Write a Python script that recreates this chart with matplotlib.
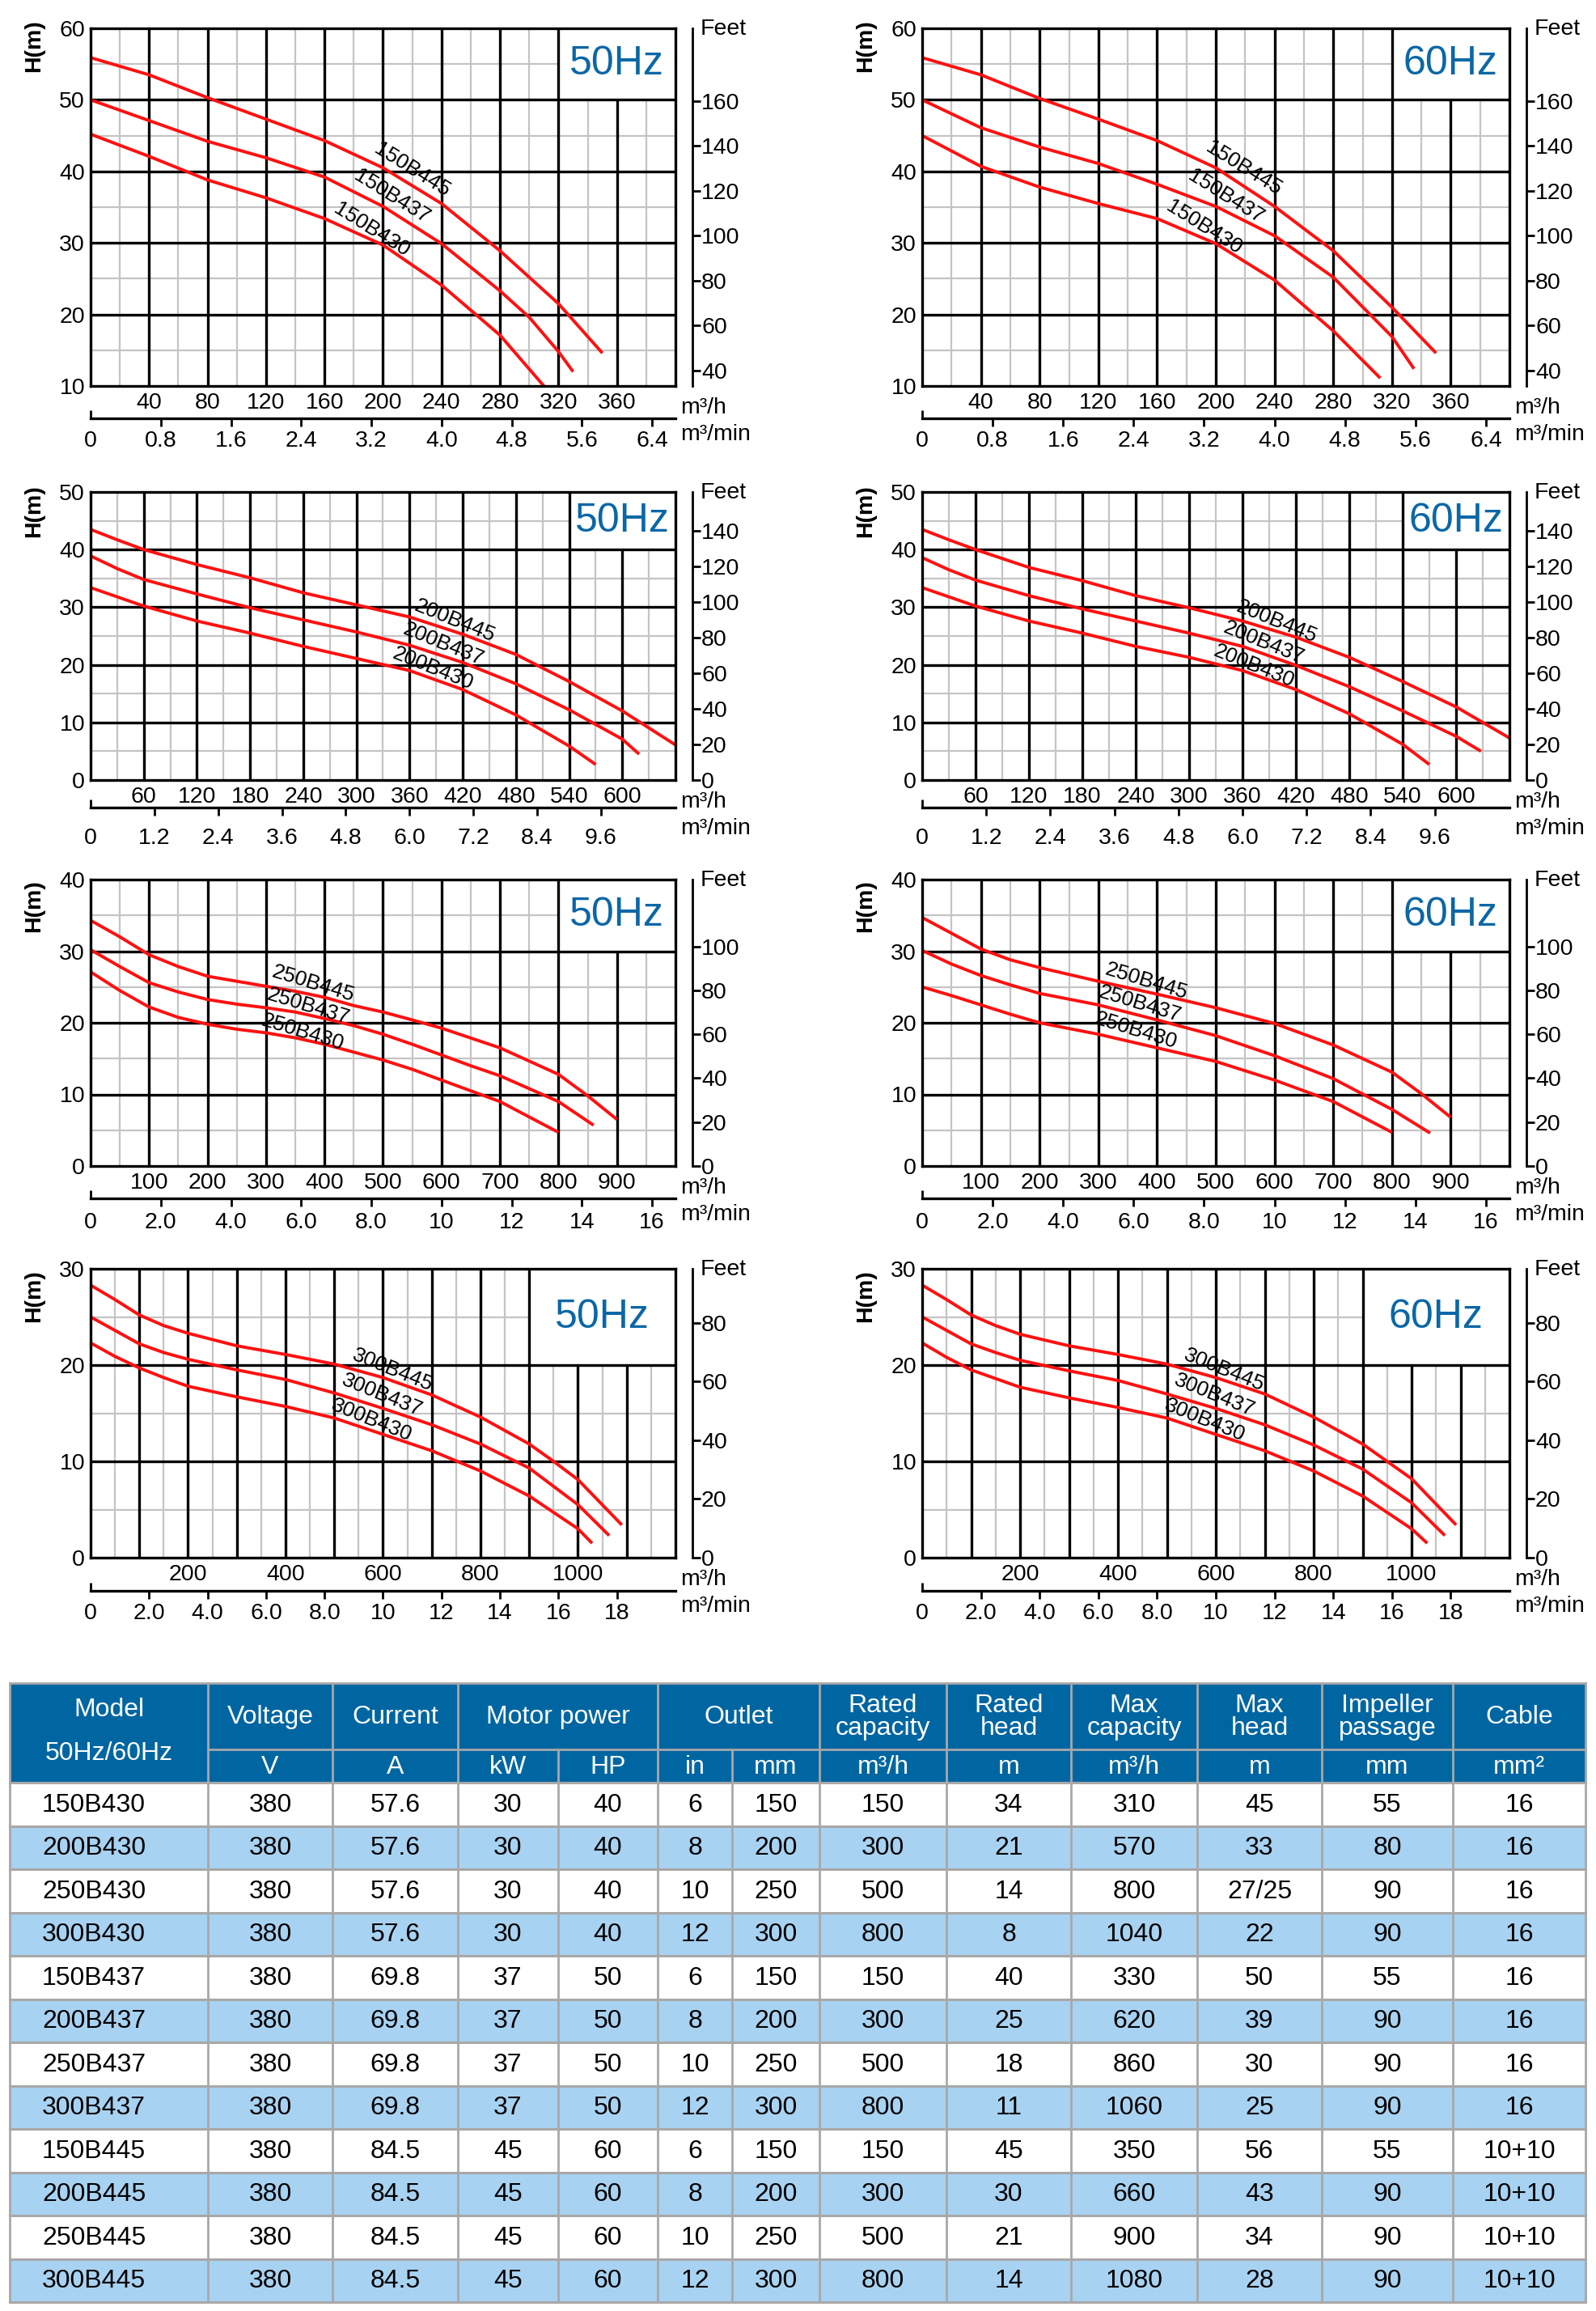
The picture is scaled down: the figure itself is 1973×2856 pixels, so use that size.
import numpy as np
import matplotlib
matplotlib.use("Agg")
import matplotlib.pyplot as plt
from matplotlib.patches import Rectangle

plt.rcParams['font.family'] = ['Liberation Sans', 'DejaVu Sans']

# ---------------- data ----------------
# 150B series (Q in m3/h, H in m)
q_150B445_50 = [0, 40, 80, 120, 160, 200, 240, 280, 320, 350]
h_150B445_50 = [55.9, 53.5, 50.3, 47.3, 44.3, 40.5, 35.5, 28.9, 21.5, 14.6]
q_150B437_50 = [0, 40, 80, 120, 160, 200, 240, 280, 300, 320, 330]
h_150B437_50 = [50.0, 47.1, 44.2, 41.9, 39.2, 35.1, 29.9, 23.3, 19.6, 14.8, 12.0]
q_150B430_50 = [0, 40, 80, 120, 160, 200, 240, 280, 310]
h_150B430_50 = [45.2, 42.1, 38.8, 36.3, 33.4, 29.7, 24.1, 17.1, 10.0]

q_150B445_60 = [0, 40, 80, 120, 160, 200, 240, 280, 320, 350]
h_150B445_60 = [55.9, 53.5, 50.2, 47.3, 44.3, 40.5, 35.1, 28.9, 21.0, 14.6]
q_150B437_60 = [0, 40, 80, 120, 160, 200, 240, 280, 320, 335]
h_150B437_60 = [50.0, 46.1, 43.4, 41.1, 38.2, 35.1, 31.0, 25.2, 16.9, 12.4]
q_150B430_60 = [0, 40, 80, 120, 160, 200, 240, 280, 312]
h_150B430_60 = [45.0, 40.7, 37.8, 35.5, 33.4, 29.9, 24.8, 17.7, 11.1]

# 200B series
q_200B445_50 = [0, 30, 60, 120, 180, 240, 300, 360, 420, 480, 540, 600, 660]
h_200B445_50 = [43.5, 41.7, 40.0, 37.4, 35.1, 32.5, 30.4, 28.3, 25.3, 21.8, 17.1, 12.0, 6.1]
q_200B437_50 = [0, 30, 60, 120, 180, 240, 300, 360, 420, 480, 540, 600, 619]
h_200B437_50 = [38.9, 36.7, 34.8, 32.3, 29.9, 27.8, 25.7, 23.4, 20.4, 16.7, 12.2, 7.1, 4.5]
q_200B430_50 = [0, 30, 60, 120, 180, 240, 300, 360, 420, 480, 540, 570]
h_200B430_50 = [33.4, 31.8, 30.2, 27.6, 25.5, 23.2, 21.1, 19.0, 15.7, 11.3, 5.9, 2.7]

q_200B445_60 = [0, 30, 60, 120, 180, 240, 300, 360, 420, 480, 540, 600, 660]
h_200B445_60 = [43.5, 41.7, 40.0, 36.9, 34.6, 32.0, 29.9, 27.6, 24.8, 21.3, 17.1, 12.7, 7.3]
q_200B437_60 = [0, 30, 60, 120, 180, 240, 300, 360, 420, 480, 540, 600, 628]
h_200B437_60 = [38.6, 36.5, 34.7, 32.0, 29.7, 27.6, 25.5, 23.2, 19.9, 16.2, 12.0, 7.6, 5.0]
q_200B430_60 = [0, 30, 60, 120, 180, 240, 300, 360, 420, 480, 540, 570]
h_200B430_60 = [33.4, 31.8, 30.2, 27.6, 25.5, 23.2, 21.3, 19.0, 15.7, 11.5, 6.2, 2.7]

# 250B series
q_250B445_50 = [0, 50, 100, 150, 200, 250, 300, 350, 400, 450, 500, 550, 600, 700, 800, 850, 900]
h_250B445_50 = [34.3, 32.0, 29.5, 27.85, 26.5, 25.8, 25.1, 24.4, 23.55, 22.4, 21.5, 20.4,
                19.25, 16.5, 12.8, 9.8, 6.5]
q_250B437_50 = [0, 50, 100, 150, 200, 250, 300, 350, 400, 450, 500, 550, 600, 650, 700, 800, 860]
h_250B437_50 = [30.2, 27.85, 25.6, 24.3, 23.25, 22.6, 22.1, 21.5, 20.6, 19.6, 18.4, 17.0,
                15.5, 14.0, 12.6, 9.0, 5.7]
q_250B430_50 = [0, 50, 100, 150, 200, 250, 300, 350, 400, 450, 500, 550, 600, 650, 700, 800]
h_250B430_50 = [27.1, 24.5, 22.2, 20.75, 19.8, 19.1, 18.6, 17.9, 17.0, 15.9, 14.8, 13.5,
                12.0, 10.5, 9.0, 4.7]

q_250B445_60 = [0, 50, 100, 150, 200, 300, 400, 500, 600, 700, 800, 850, 900]
h_250B445_60 = [34.7, 32.5, 30.3, 28.8, 27.7, 25.8, 24.0, 22.1, 19.9, 16.9, 13.1, 10.1, 6.8]
q_250B437_60 = [0, 50, 100, 150, 200, 300, 400, 500, 600, 700, 800, 865]
h_250B437_60 = [30.1, 28.2, 26.6, 25.3, 24.1, 22.5, 20.4, 18.2, 15.4, 12.2, 7.9, 4.6]
q_250B430_60 = [0, 50, 100, 150, 200, 300, 400, 500, 600, 700, 800]
h_250B430_60 = [25.0, 23.8, 22.5, 21.2, 20.0, 18.4, 16.5, 14.6, 12.0, 9.0, 4.7]

# 300B series
q_300B445_50 = [0, 50, 100, 150, 200, 300, 400, 500, 600, 700, 800, 900, 950, 1000, 1090]
h_300B445_50 = [28.3, 26.8, 25.2, 24.1, 23.3, 22.0, 21.1, 20.1, 18.7, 16.9, 14.6, 11.8, 10.0, 8.1, 3.4]
q_300B437_50 = [0, 50, 100, 150, 200, 300, 400, 500, 600, 700, 800, 900, 1000, 1064]
h_300B437_50 = [25.0, 23.6, 22.2, 21.3, 20.6, 19.5, 18.5, 17.1, 15.5, 13.8, 11.8, 9.3, 5.5, 2.3]
q_300B430_50 = [0, 50, 100, 150, 200, 300, 400, 500, 600, 700, 800, 900, 1000, 1029]
h_300B430_50 = [22.3, 20.9, 19.7, 18.7, 17.8, 16.7, 15.7, 14.5, 12.8, 11.1, 9.0, 6.4, 3.0, 1.5]

q_300B445_60 = [0, 50, 100, 150, 200, 300, 400, 500, 600, 700, 800, 900, 1000, 1091]
h_300B445_60 = [28.3, 26.8, 25.2, 24.1, 23.2, 22.0, 21.1, 20.1, 18.7, 17.0, 14.6, 11.8, 8.2, 3.4]
q_300B437_60 = [0, 50, 100, 150, 200, 300, 400, 500, 600, 700, 800, 900, 1000, 1068]
h_300B437_60 = [25.0, 23.6, 22.2, 21.3, 20.5, 19.4, 18.4, 17.0, 15.5, 13.8, 11.7, 9.2, 5.7, 2.3]
q_300B430_60 = [0, 50, 100, 150, 200, 300, 400, 500, 600, 700, 800, 900, 1000, 1032]
h_300B430_60 = [22.3, 20.8, 19.5, 18.6, 17.7, 16.6, 15.6, 14.5, 12.8, 11.1, 9.0, 6.4, 3.0, 1.5]

# axis tick labels
qh_ticks = [[40, 80, 120, 160, 200, 240, 280, 320, 360],
            [60, 120, 180, 240, 300, 360, 420, 480, 540, 600],
            [100, 200, 300, 400, 500, 600, 700, 800, 900],
            [200, 400, 600, 800, 1000]]
qmin_ticks = [[0.8, 1.6, 2.4, 3.2, 4.0, 4.8, 5.6, 6.4],
              [1.2, 2.4, 3.6, 4.8, 6.0, 7.2, 8.4, 9.6],
              [2, 4, 6, 8, 10, 12, 14, 16],
              [2, 4, 6, 8, 10, 12, 14, 16, 18]]
qmin_labels = [['0.8', '1.6', '2.4', '3.2', '4.0', '4.8', '5.6', '6.4'],
               ['1.2', '2.4', '3.6', '4.8', '6.0', '7.2', '8.4', '9.6'],
               ['2.0', '4.0', '6.0', '8.0', '10', '12', '14', '16'],
               ['2.0', '4.0', '6.0', '8.0', '10', '12', '14', '16', '18']]
h_ticks = [[10, 20, 30, 40, 50, 60], [0, 10, 20, 30, 40, 50],
           [0, 10, 20, 30, 40], [0, 10, 20, 30]]
ft_ticks = [[40, 60, 80, 100, 120, 140, 160], [0, 20, 40, 60, 80, 100, 120, 140],
            [0, 20, 40, 60, 80, 100], [0, 20, 40, 60, 80]]
ft_limits = [(33.2, 192.2), (0, 162), (0, 130.5), (0, 98.4)]
q_max = [400, 660, 1000, 1200]
h_limits = [(10, 60), (0, 50), (0, 40), (0, 30)]
q_major = [40, 60, 100, 100]
box_corner = [(320, 50), (540, 40), (800, 30), (900, 20)]
series_names = ['150B', '200B', '250B', '300B']
model_suffix = ['445', '437', '430']
label_angle = [32, 22, 17, 22]
label_pos_50 = [[(220, 40.2), (206, 36.5), (192, 31.8)],
                [(411, 27.6), (398, 23.6), (386, 19.4)],
                [(380, 25.4), (372, 22.3), (363, 18.7)],
                [(619, 19.5), (598, 16.9), (576, 14.3)]]
label_pos_60 = [[(219, 40.4), (207, 36.5), (192, 32.2)],
                [(398, 27.5), (384, 23.8), (373, 19.8)],
                [(382, 25.8), (370, 22.6), (364, 18.9)],
                [(618, 19.5), (598, 16.9), (577, 14.3)]]

# table data
tbl_model = ['150B430', '200B430', '250B430', '300B430', '150B437', '200B437',
             '250B437', '300B437', '150B445', '200B445', '250B445', '300B445']
tbl_voltage = ['380'] * 12
tbl_current = ['57.6'] * 4 + ['69.8'] * 4 + ['84.5'] * 4
tbl_kw = ['30'] * 4 + ['37'] * 4 + ['45'] * 4
tbl_hp = ['40'] * 4 + ['50'] * 4 + ['60'] * 4
tbl_in = ['6', '8', '10', '12'] * 3
tbl_mm = ['150', '200', '250', '300'] * 3
tbl_rated_cap = ['150', '300', '500', '800'] * 3
tbl_rated_head = ['34', '21', '14', '8', '40', '25', '18', '11', '45', '30', '21', '14']
tbl_max_cap = ['310', '570', '800', '1040', '330', '620', '860', '1060', '350', '660', '900', '1080']
tbl_max_head = ['45', '33', '27/25', '22', '50', '39', '30', '25', '56', '43', '34', '28']
tbl_impeller = ['55', '80', '90', '90', '55', '90', '90', '90', '55', '90', '90', '90']
tbl_cable = ['16'] * 8 + ['10+10'] * 4
hdr_top = ['Voltage', 'Current', 'Motor power', 'Outlet', 'Rated\ncapacity', 'Rated\nhead',
           'Max\ncapacity', 'Max\nhead', 'Impeller\npassage', 'Cable']
hdr_units = ['V', 'A', 'kW', 'HP', 'in', 'mm', 'm³/h', 'm', 'm³/h', 'm', 'mm', 'mm²']

curves50 = [[(q_150B445_50, h_150B445_50), (q_150B437_50, h_150B437_50), (q_150B430_50, h_150B430_50)],
            [(q_200B445_50, h_200B445_50), (q_200B437_50, h_200B437_50), (q_200B430_50, h_200B430_50)],
            [(q_250B445_50, h_250B445_50), (q_250B437_50, h_250B437_50), (q_250B430_50, h_250B430_50)],
            [(q_300B445_50, h_300B445_50), (q_300B437_50, h_300B437_50), (q_300B430_50, h_300B430_50)]]
curves60 = [[(q_150B445_60, h_150B445_60), (q_150B437_60, h_150B437_60), (q_150B430_60, h_150B430_60)],
            [(q_200B445_60, h_200B445_60), (q_200B437_60, h_200B437_60), (q_200B430_60, h_200B430_60)],
            [(q_250B445_60, h_250B445_60), (q_250B437_60, h_250B437_60), (q_250B430_60, h_250B430_60)],
            [(q_300B445_60, h_300B445_60), (q_300B437_60, h_300B437_60), (q_300B430_60, h_300B430_60)]]

# ---------------- layout ----------------
W, H = 1974, 2856
fig = plt.figure(figsize=(W / 100, H / 100), dpi=100)
fig.patch.set_facecolor('white')

def rect(x0, y0, x1, y1):
    return [x0 / W, 1 - y1 / H, (x1 - x0) / W, (y1 - y0) / H]

col_left = [112, 1140]
col_right = [835, 1866]
row_top = [35, 608, 1087, 1568]
row_bot = [477, 964, 1441, 1925]
min_line_off = [40, 34, 40, 41]
min_lab_pad = [4, 11, 5, 4]
hm_off = [22, 24, 33, 34]

RED = '#FF1010'
GREY = '#C4C4C4'
BLUE_TXT = '#0B67A6'
FS = 20.5
LW_MAJ = 2.4

def draw_chart(r, c):
    L, R = col_left[c], col_right[c]
    T, B = row_top[r], row_bot[r]
    xmax = q_max[r]
    ymin, ymax = h_limits[r]
    step = q_major[r]
    bx, by = box_corner[r]
    ax = fig.add_axes(rect(L, T, R, B))
    ax.set_xlim(0, xmax)
    ax.set_ylim(ymin, ymax)
    # minor grid
    for x in np.arange(step / 2, xmax, step):
        top = ymax if x < bx else by
        ax.plot([x, x], [ymin, top], color=GREY, lw=1.6, zorder=1, solid_capstyle='butt')
    for y in np.arange(ymin + 5, ymax, 10):
        right = xmax if y < by else bx
        ax.plot([0, right], [y, y], color=GREY, lw=1.6, zorder=1, solid_capstyle='butt')
    # major grid
    for x in np.arange(step, xmax - 1e-9, step):
        top = ymax if x <= bx else by
        ax.plot([x, x], [ymin, top], color='black', lw=LW_MAJ, zorder=2, solid_capstyle='butt')
    for y in np.arange(ymin + 10, ymax, 10):
        right = xmax if y <= by else bx
        ax.plot([0, right], [y, y], color='black', lw=LW_MAJ, zorder=2, solid_capstyle='butt')
    for s in ax.spines.values():
        s.set_linewidth(LW_MAJ)
        s.set_color('black')
        s.set_zorder(5)
    # curves
    curves = curves50[r] if c == 0 else curves60[r]
    lpos = label_pos_50[r] if c == 0 else label_pos_60[r]
    for (qq, hh), (lx, ly), sfx in zip(curves, lpos, model_suffix):
        ax.plot(qq, hh, color=RED, lw=2.8, zorder=3, solid_joinstyle='round',
                solid_capstyle='butt', clip_on=False)
        ax.text(lx, ly, series_names[r] + sfx,
                rotation=-label_angle[r], rotation_mode='anchor', ha='center', va='center',
                fontsize=19, color='black', zorder=4)
    # frequency label
    ax.text((bx + xmax) / 2, (by + ymax) / 2, '50Hz' if c == 0 else '60Hz',
            ha='center', va='center', fontsize=36, color=BLUE_TXT, zorder=4)
    # ticks
    ax.set_xticks(qh_ticks[r], [str(v) for v in qh_ticks[r]])
    ax.set_yticks(h_ticks[r], [str(v) for v in h_ticks[r]])
    ax.tick_params(axis='both', length=0, labelsize=FS)
    ax.tick_params(axis='x', pad=6)
    ax.tick_params(axis='y', pad=5)
    # feet axis
    fx = R + 21
    axf = fig.add_axes(rect(fx - 10, T, fx, B))
    axf.patch.set_visible(False)
    for k in ['left', 'top', 'bottom']:
        axf.spines[k].set_visible(False)
    axf.spines['right'].set_linewidth(2.0)
    axf.set_xticks([])
    axf.yaxis.tick_right()
    axf.set_ylim(*ft_limits[r])
    axf.set_yticks(ft_ticks[r], [str(v) for v in ft_ticks[r]])
    axf.tick_params(axis='y', direction='out', length=7, width=2, pad=1, labelsize=FS)
    fig.text((R + 31) / W, 1 - (T + 1) / H, 'Feet', ha='left', va='center', fontsize=FS)
    # m3/min axis
    ly_ = B + min_line_off[r]
    axm = fig.add_axes(rect(L, ly_ - 10, R, ly_))
    axm.patch.set_visible(False)
    for k in ['left', 'top', 'right']:
        axm.spines[k].set_visible(False)
    axm.spines['bottom'].set_linewidth(LW_MAJ)
    axm.set_xlim(0, xmax / 60)
    axm.set_ylim(0, 1)
    axm.set_yticks([])
    axm.set_xticks(qmin_ticks[r], qmin_labels[r])
    axm.set_xticks([0], ['0'], minor=True)
    axm.tick_params(axis='x', which='major', direction='out', length=7, width=2,
                    pad=min_lab_pad[r], labelsize=FS)
    axm.tick_params(axis='x', which='minor', length=0, pad=min_lab_pad[r] + 7, labelsize=FS)
    axm.plot([0, 0], [0, 1], color='black', lw=2, clip_on=False, solid_capstyle='butt')
    # unit texts
    fig.text((R + 6) / W, 1 - (B + 27) / H, 'm³/h', ha='left', va='center', fontsize=FS)
    fig.text((R + 6) / W, 1 - (B + 60) / H, 'm³/min', ha='left', va='center', fontsize=FS)
    fig.text((L - 70) / W, 1 - (T + hm_off[r]) / H, 'H(m)', ha='center', va='center',
             rotation=90, fontsize=FS, fontweight='bold')

for r in range(4):
    for c in range(2):
        draw_chart(r, c)

# ---------------- table ----------------
axt = fig.add_axes([0, 0, 1, 1])
axt.set_xlim(0, W)
axt.set_ylim(H, 0)
axt.axis('off')
axt.patch.set_visible(False)

tx = [12, 257, 411, 566, 690, 813, 905, 1013, 1170, 1324, 1480, 1634, 1796, 1960]
t_top, t_mid, t_hb = 2080, 2162, 2203
rh = 53.5
HDR_BLUE = '#0066A2'
ROW_BLUE = '#A8D2F1'
LINE = '#A8A8A8'
TFS = 23

axt.add_patch(Rectangle((tx[0], t_top), tx[-1] - tx[0], t_hb - t_top, fc=HDR_BLUE, ec='none'))
for i in range(12):
    fc = 'white' if i % 2 == 0 else ROW_BLUE
    axt.add_patch(Rectangle((tx[0], t_hb + i * rh), tx[-1] - tx[0], rh, fc=fc, ec='none'))

t_bot = t_hb + 12 * rh
axt.plot([tx[0], tx[-1]], [t_top, t_top], color=LINE, lw=2)
axt.plot([tx[1], tx[-1]], [t_mid, t_mid], color=LINE, lw=2)
for i in range(13):
    y = t_hb + i * rh
    axt.plot([tx[0], tx[-1]], [y, y], color=LINE, lw=2.2)
for k, x in enumerate(tx):
    y0 = t_mid if k in (4, 6) else t_top
    axt.plot([x, x], [y0, t_bot], color=LINE, lw=2)

axt.text((tx[0] + tx[1]) / 2, 2113, 'Model', ha='center', va='center', fontsize=TFS, color='white')
axt.text((tx[0] + tx[1]) / 2, 2167, '50Hz/60Hz', ha='center', va='center', fontsize=TFS, color='white')
spans = [(1, 2), (2, 3), (3, 5), (5, 7), (7, 8), (8, 9), (9, 10), (10, 11), (11, 12), (12, 13)]
for txt, (a, b) in zip(hdr_top, spans):
    axt.text((tx[a] + tx[b]) / 2, (t_top + t_mid) / 2 + 1, txt, ha='center', va='center',
             fontsize=TFS, color='white', linespacing=0.95)
for k, u in enumerate(hdr_units):
    axt.text((tx[k + 1] + tx[k + 2]) / 2, (t_mid + t_hb) / 2 + 1, u, ha='center', va='center',
             fontsize=TFS, color='white')

cols = [tbl_voltage, tbl_current, tbl_kw, tbl_hp, tbl_in, tbl_mm, tbl_rated_cap,
        tbl_rated_head, tbl_max_cap, tbl_max_head, tbl_impeller, tbl_cable]
for i in range(12):
    yc = t_hb + (i + 0.5) * rh + 1
    axt.text(tx[0] + 40, yc, tbl_model[i], ha='left', va='center', fontsize=TFS)
    for k, col in enumerate(cols):
        axt.text((tx[k + 1] + tx[k + 2]) / 2, yc, col[i], ha='center', va='center', fontsize=TFS)

fig.savefig('out.png', dpi=100, facecolor='white')
